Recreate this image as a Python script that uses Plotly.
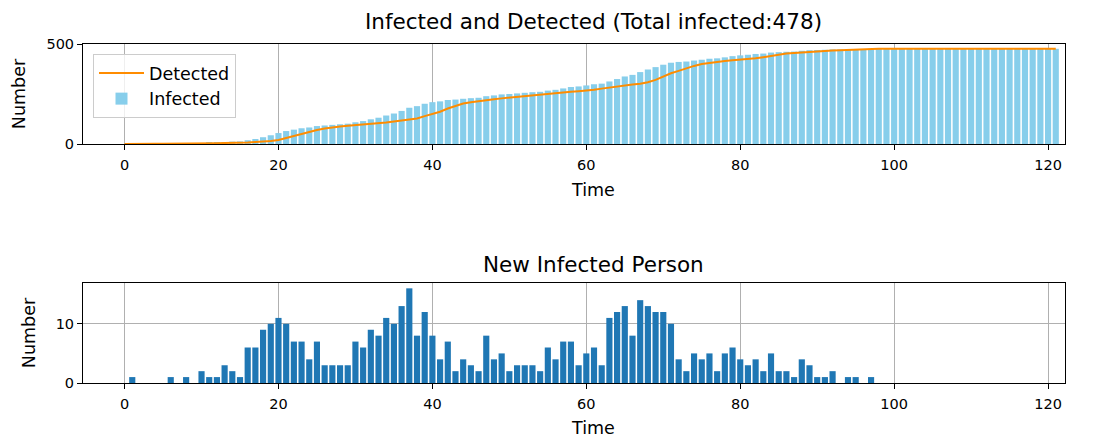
import plotly.graph_objects as go

time = list(range(122))

new_infected = [0, 1, 0, 0, 0, 0, 1, 0, 1, 0,
                2, 1, 1, 3, 2, 1, 6, 6, 9, 10,
                11, 10, 7, 7, 4, 7, 3, 3, 3, 3,
                7, 6, 9, 8, 11, 10, 13, 16, 8, 12,
                8, 4, 7, 2, 4, 3, 2, 8, 4, 5,
                2, 3, 3, 3, 2, 6, 4, 7, 7, 3,
                5, 6, 3, 11, 12, 13, 8, 14, 13, 12,
                12, 10, 4, 2, 5, 4, 5, 2, 5, 6,
                4, 3, 4, 2, 5, 2, 2, 1, 4, 3,
                1, 1, 2, 0, 1, 1, 0, 1] + [0] * 24

infected = [0, 1, 1, 1, 1, 1, 2, 2, 3, 3,
            5, 6, 7, 10, 12, 13, 19, 25, 34, 44,
            55, 65, 72, 79, 83, 90, 93, 96, 99, 102,
            109, 115, 124, 132, 143, 153, 166, 182, 190, 202,
            210, 214, 221, 223, 227, 230, 232, 240, 244, 249,
            251, 254, 257, 260, 262, 268, 272, 279, 286, 289,
            294, 300, 303, 314, 326, 339, 347, 361, 374, 386,
            398, 408, 412, 414, 419, 423, 428, 430, 435, 441,
            445, 448, 452, 454, 459, 461, 463, 464, 468, 471,
            472, 473, 475, 475, 476, 477, 477, 478] + [478] * 24

detected = [0, 1, 1, 1, 1, 1, 1, 2, 2, 3,
            3, 4, 4, 5, 5, 6, 8, 10, 12, 15,
            20, 30, 40, 52, 62, 70, 78, 84, 88, 92,
            95, 98, 100, 103, 108, 113, 117, 121, 128, 140,
            150, 162, 178, 192, 203, 210, 216, 221, 225, 229,
            233, 237, 241, 245, 249, 252, 255, 258, 262, 265,
            268, 272, 278, 284, 290, 295, 299, 303, 310, 322,
            340, 355, 367, 380, 392, 402, 408, 413, 417, 420,
            423, 426, 430, 436, 443, 450, 454, 457, 460, 463,
            465, 467, 469, 471, 473, 475, 477, 478] + [478] * 24

x_ticks = [0, 20, 40, 60, 80, 100, 120]

FONT = "DejaVu Sans"
OFF = 8  # default page body margin
W, H = 1094 - OFF, 437 - OFF
ML, MR, MT, MB = 83 - OFF, 29, 44 - OFF, 54
PH = H - MT - MB
PW = W - ML - MR
BOTTOM = OFF + H - MB
LEFT = OFF + ML


def py(ypix):
    return (BOTTOM - ypix) / PH


def px(xpix):
    return (xpix - LEFT) / PW


fig = go.Figure()

fig.add_trace(go.Bar(x=time, y=infected, name="Infected", marker_color="#87CEEB",
                     marker_line_width=0, width=0.8, xaxis="x", yaxis="y"))
fig.add_trace(go.Scatter(x=time, y=detected, name="Detected", mode="lines",
                         line=dict(color="#FF8C00", width=2), xaxis="x", yaxis="y"))
fig.add_trace(go.Bar(x=time, y=new_infected, name="New", marker_color="#1f77b4",
                     marker_line_width=0, width=0.8, xaxis="x2", yaxis="y2",
                     showlegend=False))

axis_common = dict(showline=True, mirror=True, linecolor="black", linewidth=1,
                   ticks="outside", ticklen=5, tickcolor="black",
                   showgrid=True, gridcolor="#b0b0b0", gridwidth=0.8,
                   zeroline=False, tickfont=dict(family=FONT, size=14.5, color="black"),
                   layer="above traces")

xr = [-5.4, 122.2]
LBL = 17.5

fig.update_layout(
    width=W, height=H,
    margin=dict(l=ML, r=MR, t=MT, b=MB, autoexpand=False),
    paper_bgcolor="white", plot_bgcolor="white",
    barmode="overlay",
    font=dict(family=FONT, size=14.5, color="black"),
    xaxis=dict(domain=[0, 1], anchor="y", range=xr, tickvals=x_ticks,
               ticklabelstandoff=3, **axis_common),
    yaxis=dict(domain=[py(144), 1], anchor="x", range=[0, 502], tickvals=[0, 500],
               title=dict(text="Number", font=dict(family=FONT, size=LBL), standoff=16),
               **axis_common),
    xaxis2=dict(domain=[0, 1], anchor="y2", range=xr, tickvals=x_ticks,
                ticklabelstandoff=3, **axis_common),
    yaxis2=dict(domain=[0, py(283)], anchor="x2", range=[0, 16.9], tickvals=[0, 10],
                title=dict(text="Number", font=dict(family=FONT, size=LBL), standoff=15),
                **axis_common),
    legend=dict(x=px(93), y=py(54), xanchor="left", yanchor="top",
                bgcolor="rgba(255,255,255,0.8)", bordercolor="#cccccc", borderwidth=1,
                font=dict(family=FONT, size=17.5), traceorder="reversed",
                itemwidth=45, tracegroupgap=0),
    showlegend=True,
)

ann = [
    (f"Infected and Detected (Total infected:{infected[-1]})", 22, 21.5),
    ("Time", 190, LBL),
    ("New Infected Person", 264, 21.5),
    ("Time", 428, LBL),
]
for text, ypix, size in ann:
    fig.add_annotation(text=text, xref="paper", yref="paper", x=px(593), y=py(ypix),
                       xanchor="center", yanchor="middle", showarrow=False,
                       font=dict(family=FONT, size=size, color="black"))

fig.write_html("out.html")
